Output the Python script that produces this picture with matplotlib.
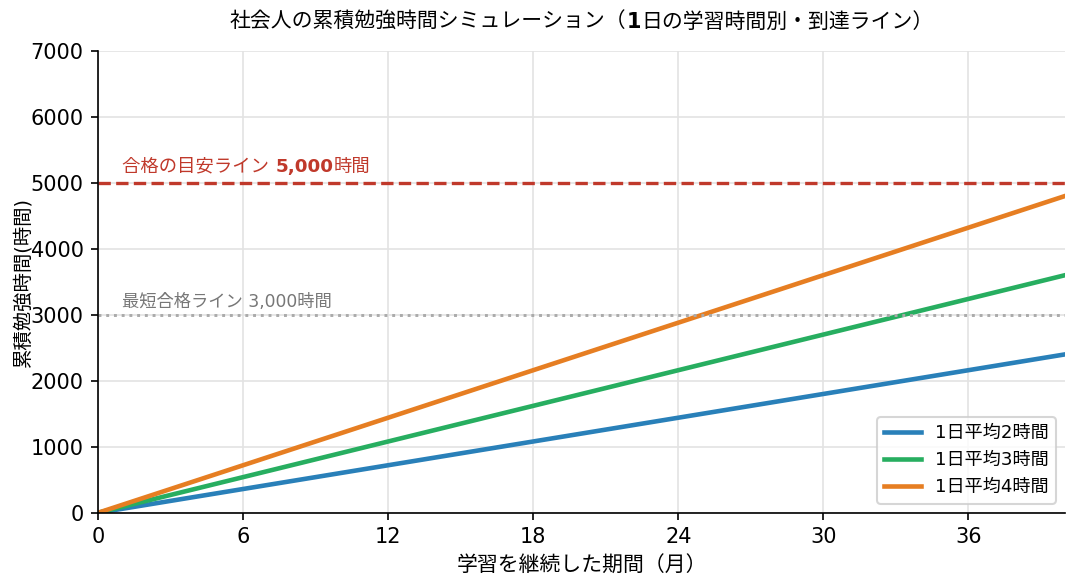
import numpy as np
import matplotlib
matplotlib.use('Agg')
import matplotlib.pyplot as plt
from matplotlib.offsetbox import TextArea, HPacker, AnnotationBbox

plt.rcParams['font.family'] = ['DejaVu Sans', 'Noto Sans CJK JP']

# months of study and cumulative hours (end points of the straight lines)
months = [0, 40]
hours_2h = [0, 2400]
hours_3h = [0, 3600]
hours_4h = [0, 4800]
labels = ['1日平均2時間', '1日平均3時間', '1日平均4時間']
colors = ['#2980b9', '#27ae60', '#e67e22']

goal_line = 5000
min_line = 3000


def mixed(parts, size, color):
    # text made of regular and bold pieces on one baseline
    boxes = [TextArea(t, textprops=dict(fontsize=size, color=color, fontweight=w))
             for t, w in parts]
    return HPacker(children=boxes, pad=0, sep=0, align='baseline')


fig, ax = plt.subplots(figsize=(1078/150, 584/150), dpi=150)

for vals, lab, c in zip([hours_2h, hours_3h, hours_4h], labels, colors):
    ax.plot(months, vals, color=c, lw=2.2, label=lab)

ax.axhline(goal_line, color='#c0392b', ls='--', lw=1.6)
ax.axhline(min_line, color='#aaaaaa', ls=':', lw=1.4)

goal_txt = mixed([('合格の目安ライン ', 'normal'), ('5,000', 'bold'), ('時間', 'normal')],
                 8.8, '#c0392b')
ax.add_artist(AnnotationBbox(goal_txt, (1, goal_line), xycoords='data',
                             xybox=(0, 3.5), boxcoords='offset points',
                             box_alignment=(0, 0), frameon=False, pad=0))
ax.text(1, min_line + 50, '最短合格ライン 3,000時間', color='#777777',
        fontsize=8.3, va='bottom')

ax.set_xlim(0, 40)
ax.set_ylim(0, 7000)
ax.set_xticks(np.arange(0, 40, 6))
ax.grid(True, color='#e3e3e3', lw=0.8)
ax.set_axisbelow(True)
ax.spines['top'].set_visible(False)
ax.spines['right'].set_visible(False)
ax.tick_params(labelsize=10)

ax.set_xlabel('学習を継続した期間（月）', fontsize=10)
ax.set_ylabel('累積勉強時間(時間)', fontsize=9.3, labelpad=-1)
title = mixed([('社会人の累積勉強時間シミュレーション（', 'normal'), ('1', 'bold'),
               ('日の学習時間別・到達ライン）', 'normal')], 10, 'black')
ax.add_artist(AnnotationBbox(title, (0.5, 1), xycoords='axes fraction',
                             xybox=(0, 14), boxcoords='offset points',
                             box_alignment=(0.5, 0.5), frameon=False, pad=0,
                             annotation_clip=False))
ax.legend(loc='lower right', fontsize=8.7)

fig.subplots_adjust(left=0.091, right=0.988, top=0.913, bottom=0.122)
fig.savefig('out.png', dpi=150)
